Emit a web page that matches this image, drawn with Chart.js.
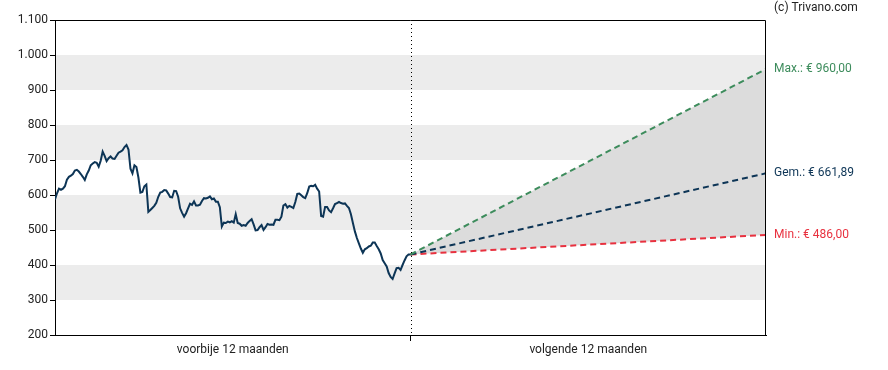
<!DOCTYPE html>
<html>
<head>
<meta charset="utf-8">
<script src="https://cdn.jsdelivr.net/npm/chart.js@4/dist/chart.umd.min.js"></script>
<style>
  html, body { margin: 0; padding: 0; background: #fff; }
  #wrap { width: 888px; height: 370px; }
</style>
</head>
<body>
<div id="wrap"><canvas id="canvas"></canvas></div>
<script>
// koers voorbije 12 maanden (ongeveer om de 2 dagen)
var pastPrices = [
  587, 605, 618, 615, 618, 625, 644, 652, 655, 660, 670, 672, 667, 660, 652, 643,
  659, 670, 685, 690, 694, 692, 681, 698, 724, 712, 697, 705, 710, 704, 703, 712,
  721, 724, 728, 737, 743, 730, 675, 662, 685, 680, 650, 607, 609, 625, 630, 552,
  557, 563, 569, 578, 595, 607, 609, 614, 613, 604, 594, 593, 612, 611, 595, 562,
  549, 538, 548, 562, 575, 572, 582, 570, 570, 572, 583, 591, 590, 592, 596, 588,
  590, 581, 581, 565, 510, 521, 520, 524, 522, 525, 521, 545, 520, 518, 512, 514,
  512, 520, 526, 531, 516, 499, 500, 508, 514, 500, 508, 517, 515, 516, 515, 529,
  529, 528, 538, 570, 574, 564, 569, 566, 563, 580, 603, 604, 599, 594, 591, 605,
  624, 626, 625, 629, 618, 610, 540, 538, 566, 566, 556, 551, 562, 574, 577, 580,
  577, 575, 576, 569, 563, 545, 520, 496, 477, 462, 447, 435, 445, 448, 453, 455,
  464, 464, 454, 445, 433, 414, 405, 396, 377, 366, 360, 376, 391, 392, 386, 400,
  413, 425, 430, 430
];
var lastPrice = 430;
var targetMax = 960.00;
var targetAvg = 661.89;
var targetMin = 486.00;
var periodLabels = ['voorbije 12 maanden', 'volgende 12 maanden'];
var yTicks = [200, 300, 400, 500, 600, 700, 800, 900, 1000, 1100];
var bands = [[300, 400], [500, 600], [700, 800], [900, 1000]];

var navy = '#0d3556';
var green = '#3d8c5c';
var red = '#e8313f';

function fmtThousands(v) {
  var s = String(Math.round(v));
  return s.replace(/\B(?=(\d{3})+(?!\d))/g, '.');
}
function fmtEuro(v) {
  return '€ ' + v.toFixed(2).replace('.', ',');
}

var pastData = pastPrices.map(function (v, i) {
  return { x: i / (pastPrices.length - 1), y: v };
});
function forecast(target) {
  return [{ x: 1, y: lastPrice }, { x: 2, y: target }];
}

var decoPlugin = {
  id: 'deco',
  beforeDraw: function (chart) {
    var c = chart.ctx, a = chart.chartArea, ys = chart.scales.y;
    c.save();
    c.fillStyle = '#ececec';
    bands.forEach(function (b) {
      var t = ys.getPixelForValue(b[1]), bt = ys.getPixelForValue(b[0]);
      c.fillRect(a.left, t, a.right - a.left, bt - t);
    });
    c.restore();
  },
  afterDraw: function (chart) {
    var c = chart.ctx, a = chart.chartArea, ys = chart.scales.y, xs = chart.scales.x;
    c.save();
    // gestippelde scheidingslijn
    var mx = Math.round(xs.getPixelForValue(1)) + 0.5;
    c.strokeStyle = '#000';
    c.lineWidth = 1;
    c.setLineDash([1, 3]);
    c.beginPath();
    c.moveTo(mx, a.top);
    c.lineTo(mx, a.bottom);
    c.stroke();
    c.setLineDash([]);
    // kader
    c.beginPath();
    c.moveTo(a.left, a.top + 0.5);
    c.lineTo(a.right - 0.5, a.top + 0.5);
    c.lineTo(a.right - 0.5, a.bottom);
    c.stroke();
    // labels rechts
    c.font = '12px Roboto';
    c.textBaseline = 'middle';
    c.textAlign = 'left';
    var lx = a.right + 8;
    c.fillStyle = green;
    c.fillText('Max.: ' + fmtEuro(targetMax), lx, ys.getPixelForValue(targetMax));
    c.fillStyle = navy;
    c.fillText('Gem.: ' + fmtEuro(targetAvg), lx, ys.getPixelForValue(targetAvg));
    c.fillStyle = red;
    c.fillText('Min.: ' + fmtEuro(targetMin), lx, ys.getPixelForValue(targetMin));
    c.fillStyle = '#222';
    c.fillText('(c) Trivano.com', lx, 8);
    c.restore();
  }
};

window.onload = function () {
  var ctx = document.getElementById('canvas').getContext('2d');
  window.myChart = new Chart(ctx, {
    type: 'line',
    data: {
      datasets: [{
        label: 'max',
        data: forecast(targetMax),
        borderColor: green,
        borderWidth: 2,
        borderDash: [6, 4],
        backgroundColor: '#dcdcdc',
        fill: 2,
        pointRadius: 0
      }, {
        label: 'gem',
        data: forecast(targetAvg),
        borderColor: navy,
        borderWidth: 2,
        borderDash: [6, 4],
        fill: false,
        pointRadius: 0
      }, {
        label: 'min',
        data: forecast(targetMin),
        borderColor: red,
        borderWidth: 2,
        borderDash: [6, 4],
        fill: false,
        pointRadius: 0
      }, {
        label: 'koers',
        data: pastData,
        borderColor: navy,
        borderWidth: 2,
        fill: false,
        pointRadius: 0,
        tension: 0
      }]
    },
    options: {
      responsive: true,
      maintainAspectRatio: false,
      animation: false,
      layout: { padding: { top: 20, right: 122, left: 0, bottom: 0 } },
      plugins: {
        legend: { display: false },
        tooltip: { enabled: false },
        filler: { drawTime: 'beforeDatasetsDraw' }
      },
      scales: {
        x: {
          type: 'linear',
          min: 0,
          max: 2,
          afterBuildTicks: function (scale) {
            scale.ticks = [{ value: 0.5 }, { value: 1 }, { value: 1.5 }];
          },
          afterFit: function (scale) { scale.height = 35; },
          grid: {
            drawOnChartArea: false,
            tickLength: 6,
            tickColor: function (c) { return c.tick && c.tick.value === 1 ? '#000' : 'rgba(0,0,0,0)'; }
          },
          border: { color: '#000', width: 1 },
          ticks: {
            autoSkip: false,
            maxRotation: 0,
            padding: 2,
            color: '#222',
            font: { family: 'Roboto', size: 12 },
            callback: function (v) {
              if (v === 0.5) return periodLabels[0];
              if (v === 1.5) return periodLabels[1];
              return '';
            }
          }
        },
        y: {
          min: 200,
          max: 1100,
          afterBuildTicks: function (scale) {
            scale.ticks = yTicks.map(function (v) { return { value: v }; });
          },
          afterFit: function (scale) { scale.width = 55; },
          grid: { drawOnChartArea: false, tickLength: 5, tickColor: '#000' },
          border: { color: '#000', width: 1 },
          ticks: {
            padding: 2,
            color: '#222',
            font: { family: 'Roboto', size: 12 },
            callback: function (v) { return fmtThousands(v); }
          }
        }
      }
    },
    plugins: [decoPlugin]
  });
};
</script>
</body>
</html>
